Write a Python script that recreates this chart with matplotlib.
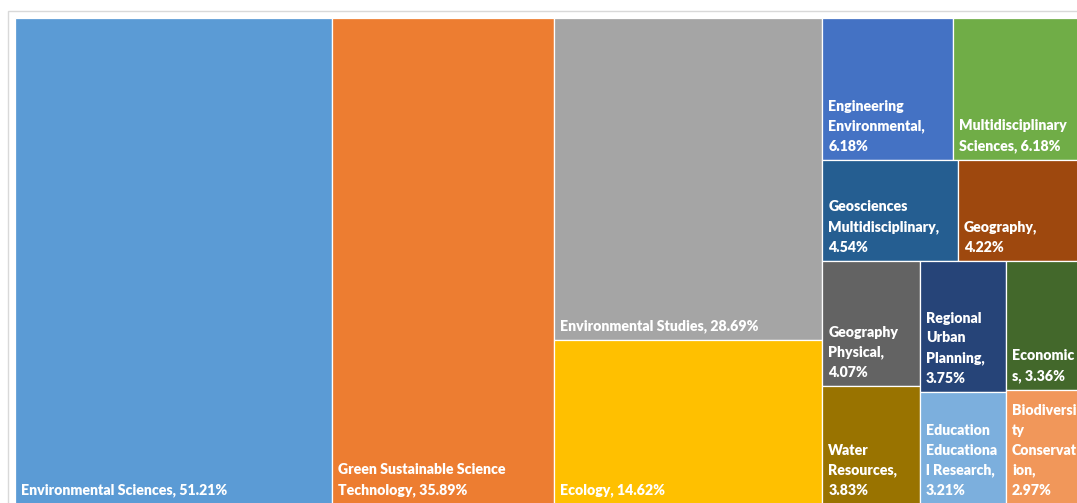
import matplotlib.pyplot as plt
from matplotlib.patches import Rectangle

# Web of Science categories, share of records (%)
categories = ["Environmental Sciences", "Green Sustainable Science Technology",
              "Environmental Studies", "Ecology", "Engineering Environmental",
              "Multidisciplinary Sciences", "Geosciences Multidisciplinary",
              "Geography", "Geography Physical", "Water Resources",
              "Regional Urban Planning", "Education Educational Research",
              "Economics", "Biodiversity Conservation"]
values = [51.21, 35.89, 28.69, 14.62, 6.18, 6.18, 4.54, 4.22, 4.07, 3.83,
          3.75, 3.21, 3.36, 2.97]
# label text as wrapped in the original (value is appended)
wrapped = ["Environmental Sciences, ", "Green Sustainable Science\nTechnology, ",
           "Environmental Studies, ", "Ecology, ", "Engineering\nEnvironmental,\n",
           "Multidisciplinary\nSciences, ", "Geosciences\nMultidisciplinary,\n",
           "Geography,\n", "Geography\nPhysical,\n", "Water\nResources,\n",
           "Regional\nUrban\nPlanning,\n", "Education\nEducationa\nl Research,\n",
           "Economic\ns, ", "Biodiversi\nty\nConservat\nion,\n"]
colors = ["#5B9BD5", "#ED7D31", "#A5A5A5", "#FFC000", "#4472C4", "#70AD47",
          "#255E91", "#9E480E", "#636363", "#997300", "#264478", "#7CAFDD",
          "#43682B", "#F1975A"]

# treemap nesting (indices into the lists above), alternating split direction
groups = [[0], [1], [2, 3],
          [[4, 5], [6, 7], [[8, 9], [10, 11], [12, 13]]]]


def total(g):
    if isinstance(g, int):
        return values[g]
    return sum(total(s) for s in g)


def layout(ax, g, x, y, w, h, horizontal):
    if isinstance(g, int):
        ax.add_patch(Rectangle((x, y), w, h, facecolor=colors[g],
                               edgecolor="white", linewidth=0.9))
        ax.annotate(wrapped[g] + f"{values[g]:.2f}%", xy=(x, y + h),
                    xytext=(6, 7), textcoords="offset pixels",
                    ha="left", va="bottom", color="white", fontsize=10.2,
                    fontweight="heavy", family="Lato", linespacing=1.62,
                    annotation_clip=False)
        return
    s = total(g)
    for sub in g:
        f = total(sub) / s
        if horizontal:
            layout(ax, sub, x, y, w * f, h, False)
            x += w * f
        else:
            layout(ax, sub, x, y, w, h * f, True)
            y += h * f


W, H = 1077, 503
fig = plt.figure(figsize=(W / 100, H / 100), dpi=100)

# light outer frame of the chart area (cut off at right and bottom)
fig.add_artist(Rectangle((8 / W, -0.1), 1.2, 1 - 11 / H + 0.1,
                         transform=fig.transFigure, fill=False,
                         edgecolor="#D9D9D9", linewidth=1))

chart_h = 486
px_per_pct = 317 / 51.21
chart_w = total(groups) * px_per_pct
ax = fig.add_axes([15 / W, (H - 18 - chart_h) / H, chart_w / W, chart_h / H])
ax.set_xlim(0, total(groups))
ax.set_ylim(1, 0)
ax.axis("off")
layout(ax, groups, 0, 0, total(groups), 1, True)

fig.savefig("out.png", dpi=100)
